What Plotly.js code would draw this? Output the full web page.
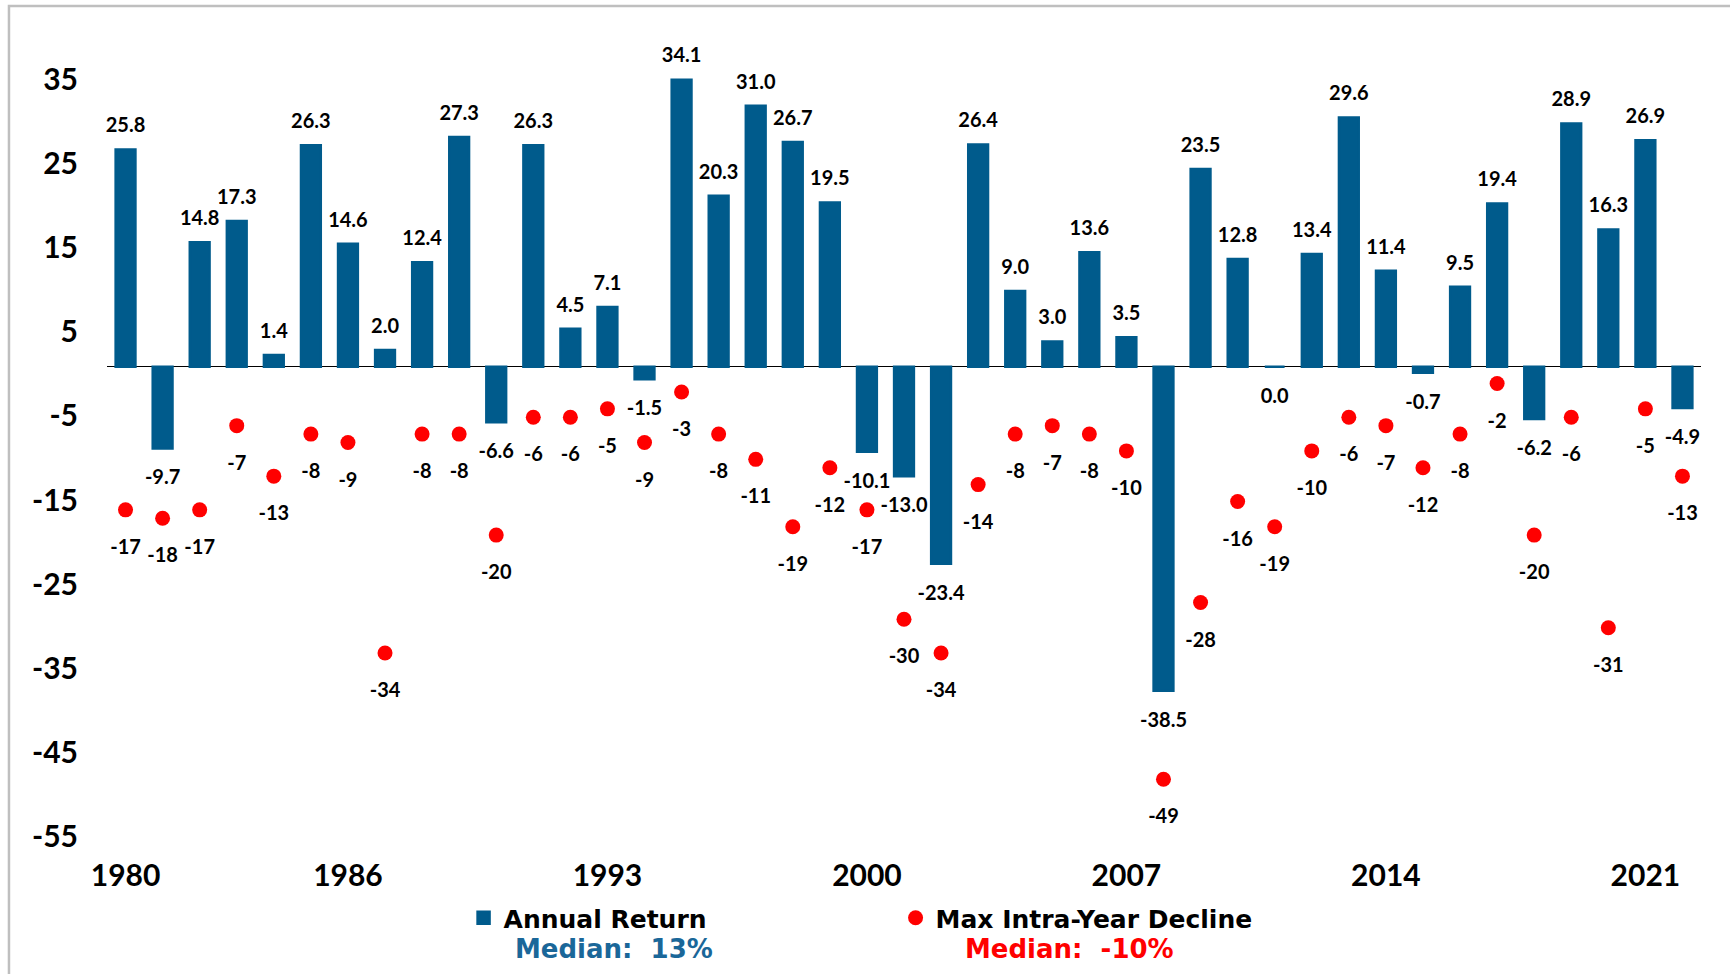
<!DOCTYPE html>
<html>
<head>
<meta charset="utf-8">
<script src="https://cdn.plot.ly/plotly-3.0.1.min.js"></script>
<style>
html,body{margin:0;padding:0;background:#ffffff;}
#chart{width:1730px;height:974px;}
</style>
</head>
<body>
<div id="chart"></div>
<script>
// ---- data ----
const years = [1980,1981,1982,1983,1984,1985,1986,1987,1988,1989,
               1990,1991,1992,1993,1994,1995,1996,1997,1998,1999,
               2000,2001,2002,2003,2004,2005,2006,2007,2008,2009,
               2010,2011,2012,2013,2014,2015,2016,2017,2018,2019,
               2020,2021,2022];
const annualReturn = [25.8,-9.7,14.8,17.3,1.4,26.3,14.6,2.0,12.4,27.3,
                      -6.6,26.3,4.5,7.1,-1.5,34.1,20.3,31.0,26.7,19.5,
                      -10.1,-13.0,-23.4,26.4,9.0,3.0,13.6,3.5,-38.5,23.5,
                      12.8,0.0,13.4,29.6,11.4,-0.7,9.5,19.4,-6.2,28.9,
                      16.3,26.9,-4.9];
const maxDecline = [-17,-18,-17,-7,-13,-8,-9,-34,-8,-8,
                    -20,-6,-6,-5,-9,-3,-8,-11,-19,-12,
                    -17,-30,-34,-14,-8,-7,-8,-10,-49,-28,
                    -16,-19,-10,-6,-7,-12,-8,-2,-20,-6,
                    -31,-5,-13];
const xTickYears = [1980,1986,1993,2000,2007,2014,2021];
const yTickVals = [35,25,15,5,-5,-15,-25,-35,-45,-55];
const seriesNames = ['Annual Return','Max Intra-Year Decline'];
const medianLabels = ['Median:  13%','Median:  -10%'];

// ---- styling ----
const BLUE = '#005B8C';
const RED = '#FF0000';
const FONT = 'Lato, "Open Sans", Roboto, sans-serif';
const LEGEND_FONT = '"DejaVu Sans", "Open Sans", sans-serif';

const barTrace = {
  type: 'bar',
  x: years,
  y: annualReturn,
  name: seriesNames[0],
  marker: {color: BLUE, line: {color: BLUE, width: 2.5}},
  hoverinfo: 'x+y'
};

const dotTrace = {
  type: 'scatter',
  mode: 'markers',
  x: years,
  y: maxDecline,
  name: seriesNames[1],
  marker: {color: RED, size: 15, symbol: 'circle', line: {width: 0}},
  hoverinfo: 'x+y'
};

// value labels for bars (placed through the axes, offset via invisible marker size)
const barLabelTrace = {
  type: 'scatter',
  mode: 'markers+text',
  x: years,
  y: annualReturn,
  text: annualReturn.map(v => v.toFixed(1)),
  textposition: annualReturn.map(v => v > 0 ? 'top center' : 'bottom center'),
  textfont: {family: FONT, size: 20, color: '#000000', weight: 700},
  marker: {size: annualReturn.map(v => v > 0 ? 18 : 32), color: 'rgba(0,0,0,0)', opacity: 0,
           line: {width: 0, color: 'rgba(0,0,0,0)'}},
  showlegend: false,
  hoverinfo: 'skip',
  cliponaxis: false
};

const dotLabelTrace = {
  type: 'scatter',
  mode: 'markers+text',
  x: years,
  y: maxDecline,
  text: maxDecline.map(v => String(v)),
  textposition: 'bottom center',
  textfont: {family: FONT, size: 20, color: '#000000', weight: 700},
  marker: {size: 45, color: 'rgba(0,0,0,0)', opacity: 0, line: {width: 0, color: 'rgba(0,0,0,0)'}},
  showlegend: false,
  hoverinfo: 'skip',
  cliponaxis: false
};

const tickFont = {family: FONT, size: 30, color: '#000000', weight: 700};

const layout = {
  width: 1730,
  height: 974,
  margin: {l: 107, r: 29, t: 30, b: 119, pad: 0},
  paper_bgcolor: '#ffffff',
  plot_bgcolor: '#ffffff',
  bargap: 0.466,
  showlegend: true,
  xaxis: {
    range: [1979.5, 2022.5],
    tickmode: 'array',
    tickvals: xTickYears,
    ticktext: xTickYears.map(String),
    showgrid: false,
    zeroline: false,
    showline: false,
    ticks: '',
    tickfont: tickFont,
    ticklabelstandoff: 0,
    fixedrange: true
  },
  yaxis: {
    range: [-58, 40],
    tickmode: 'array',
    tickvals: yTickVals,
    ticktext: yTickVals.map(String),
    showgrid: false,
    zeroline: true,
    zerolinecolor: '#000000',
    zerolinewidth: 1.5,
    showline: false,
    ticks: '',
    tickfont: tickFont,
    ticklabelstandoff: 28,
    ticklabelshift: 7,
    fixedrange: true
  },
  legend: {
    orientation: 'h',
    x: 0.2237,
    xanchor: 'left',
    y: -0.0764,
    yanchor: 'middle',
    font: {family: LEGEND_FONT, size: 25, color: '#000000', weight: 700},
    entrywidth: 387,
    itemwidth: 30,
    bgcolor: 'rgba(0,0,0,0)',
    borderwidth: 0
  },
  annotations: [
    {xref: 'paper', yref: 'paper', x: 0.318, y: -0.1139, xanchor: 'center', yanchor: 'middle',
     text: medianLabels[0], showarrow: false,
     font: {family: LEGEND_FONT, size: 26, color: '#1A6799', weight: 700}},
    {xref: 'paper', yref: 'paper', x: 0.604, y: -0.1139, xanchor: 'center', yanchor: 'middle',
     text: medianLabels[1], showarrow: false,
     font: {family: LEGEND_FONT, size: 26, color: RED, weight: 700}}
  ],
  shapes: [
    {type: 'rect', xref: 'paper', yref: 'paper',
     x0: -0.0615, x1: 1.03, y0: -0.16, y1: 1.029,
     line: {color: '#BFBFBF', width: 2.5}, fillcolor: 'rgba(0,0,0,0)', layer: 'below'}
  ]
};

Plotly.newPlot('chart', [barTrace, dotTrace, barLabelTrace, dotLabelTrace], layout,
  {displayModeBar: false, staticPlot: true});
</script>
</body>
</html>
